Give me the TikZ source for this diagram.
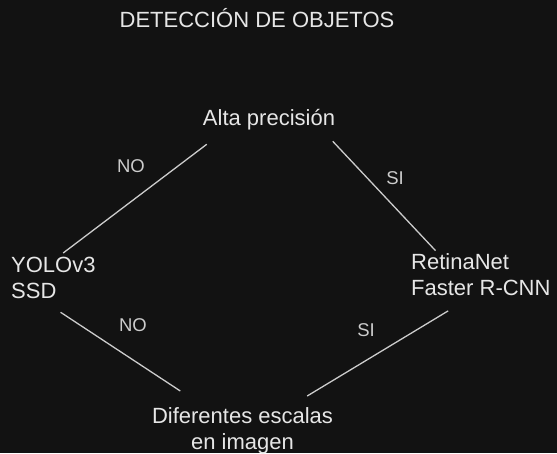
\documentclass[tikz,border=0pt]{standalone}
\usepackage{fontspec}
\setmainfont{Liberation Sans}
\definecolor{bgdark}{HTML}{121212}
\definecolor{inkwhite}{HTML}{E6E6E6}
\definecolor{inkgrey}{HTML}{CCCCCC}
\begin{document}
\begin{tikzpicture}[x=1pt,y=-1pt]
\tikzstyle{txt} = [inner sep=0pt, text=inkwhite, font=\fontsize{22}{26}\selectfont]
\tikzstyle{lbl} = [inner sep=0pt, text=inkgrey, font=\fontsize{18.5}{22}\selectfont]
\tikzstyle{link} = [draw=inkgrey, line width=1.3pt]

\fill [bgdark] (0,0) rectangle (557,453);
\useasboundingbox (0,0) rectangle (557,453);

\node (title) [txt, anchor=base] at (257,27.3) {DETECCIÓN DE OBJETOS};
\node (prec) [txt, anchor=base] at (269,125.5) {Alta precisión};
\node (yolo) [txt, anchor=north west, align=left] at (11,257) {YOLOv3\\SSD};
\node (retina) [txt, anchor=north west, align=left] at (411,253) {RetinaNet\\Faster R-CNN};
\node (escalas) [txt, anchor=north, align=center] at (242.5,407) {Diferentes escalas\\en imagen};

\node (no1) [lbl] at (131,166) {NO};
\node (si1) [lbl] at (395,178) {SI};
\node (no2) [lbl] at (133,325) {NO};
\node (si2) [lbl] at (366,330) {SI};

\draw [link] ([shift={(4,14)}]prec.south west) -- ([shift={(9.8,-4)}]yolo.north);
\draw [link] ([shift={(-2.5,11)}]prec.south east) -- ([shift={(24.5,-2.4)}]retina.north west);
\draw [link] ([shift={(7.2,13.3)}]yolo.south) -- ([shift={(28.5,-16)}]escalas.north west);
\draw [link] ([shift={(-32.7,15.3)}]retina.south) -- ([shift={(-26,-11)}]escalas.north east);
\end{tikzpicture}
\end{document}
